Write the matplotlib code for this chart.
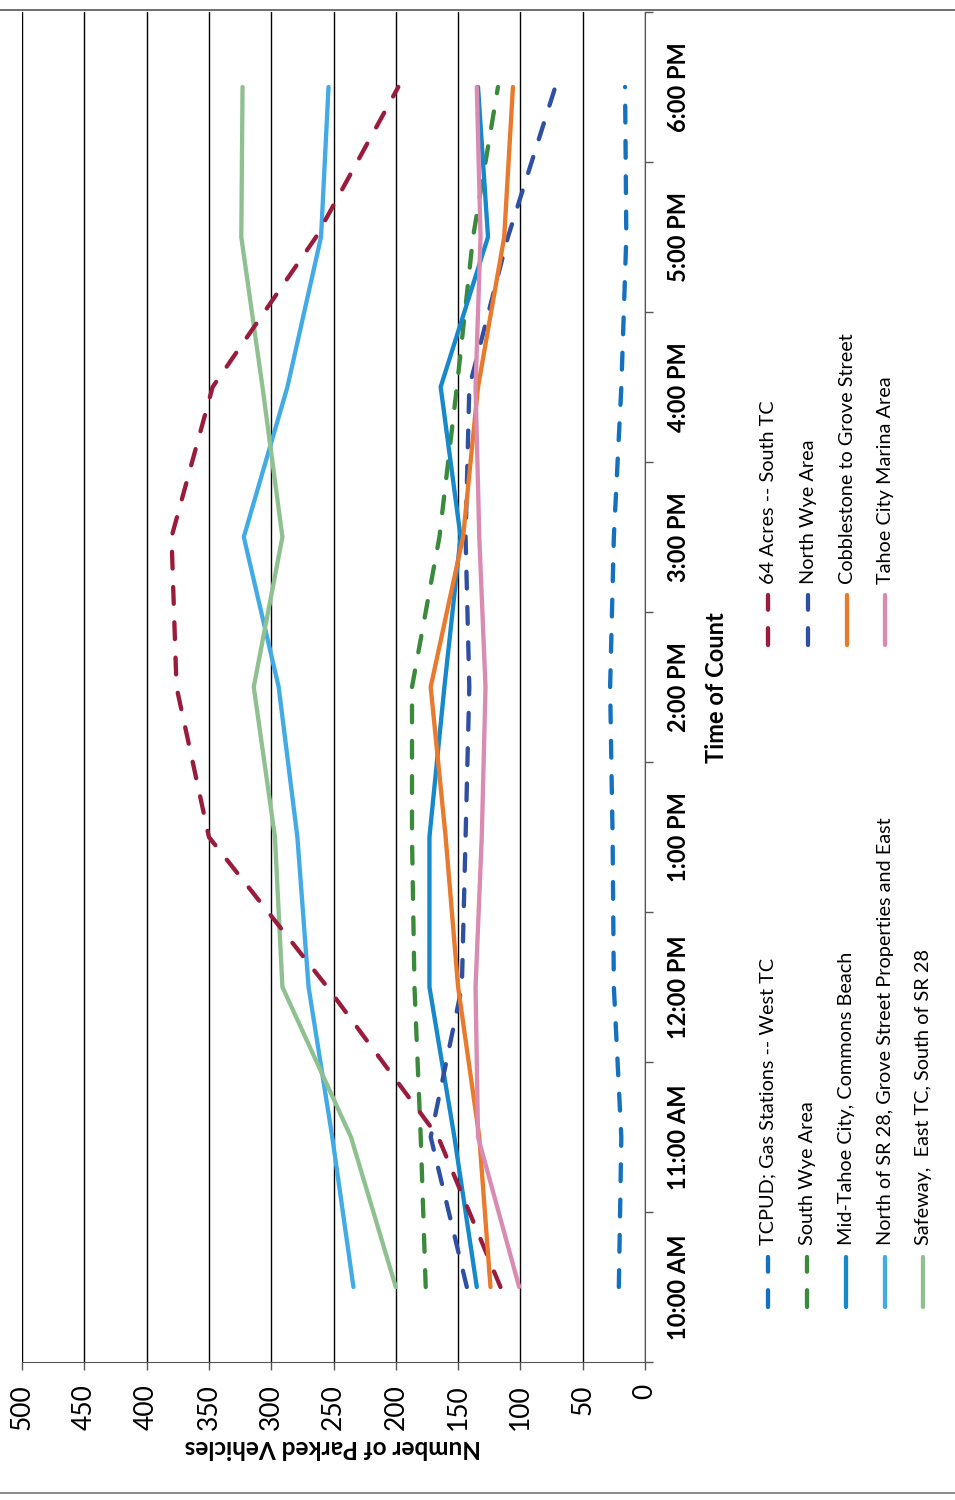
from matplotlib import pyplot as plt
from matplotlib.lines import Line2D
import numpy as np

plt.rcParams['font.family'] = ['Lato', 'DejaVu Sans']

# parked vehicle counts per hour, one list per area
times = ['10:00 AM', '11:00 AM', '12:00 PM', '1:00 PM', '2:00 PM',
         '3:00 PM', '4:00 PM', '5:00 PM', '6:00 PM']
tcpud = [21, 19, 25, 26, 28, 25, 19, 15, 16]
south_wye = [176, 180, 185, 187, 187, 165, 151, 138, 118]
mid_tahoe = [135, 153, 173, 173, 161, 148, 164, 126, 134]
north_sr28 = [234, 251, 270, 279, 294, 322, 287, 260, 254]
safeway = [200, 236, 291, 297, 314, 291, 307, 324, 323]
acres64 = [116, 166, 255, 350, 376, 380, 347, 264, 198]
north_wye = [143, 172, 147, 144, 141, 144, 141, 110, 72]
cobblestone = [124, 133, 150, 160, 172, 146, 134, 113, 106]
marina = [101, 134, 136, 131, 128, 133, 136, 132, 135]

series = [
    ('TCPUD; Gas Stations -- West TC', tcpud, '#1470c0', True),
    ('South Wye Area', south_wye, '#3a8a3c', True),
    ('Mid-Tahoe City, Commons Beach', mid_tahoe, '#1688cc', False),
    ('North of SR 28, Grove Street Properties and East', north_sr28, '#42abe6', False),
    ('Safeway,  East TC, South of SR 28', safeway, '#8fc190', False),
    ('64 Acres -- South TC', acres64, '#9a1c3c', True),
    ('North Wye Area', north_wye, '#2f4fa2', True),
    ('Cobblestone to Grove Street', cobblestone, '#e9792c', False),
    ('Tahoe City Marina Area', marina, '#d98bb1', False),
]

W, H = 955, 1500
DASH = (0, (3.9, 4.3))


def fx(x):
    return x / W


def fy(y):
    return 1 - y / H


fig = plt.figure(figsize=(W / 100, H / 100), dpi=100)
ax = fig.add_axes([fx(22), fy(1362), (645 - 22) / W, (1362 - 12) / H])

# chart is turned on its side: time runs upward, counts run leftward
pos = np.arange(len(times))
for label, vals, color, dashed in series:
    ax.plot(vals, pos, color=color, lw=3.1,
            ls=DASH if dashed else '-',
            dash_capstyle='round', solid_capstyle='round',
            solid_joinstyle='round')

ax.set_xlim(500, 0)
ax.set_ylim(-0.5, 8.5)
ax.set_xticks(np.arange(0, 501, 50))
ax.grid(axis='x', color='black', lw=1.0)
ax.set_axisbelow(True)
ax.spines[['top', 'left']].set_visible(False)
ax.spines['bottom'].set_color('#555555')
ax.spines['right'].set_color('#555555')
ax.tick_params(axis='x', direction='out', length=6, width=1, color='#555555',
               labelrotation=90, labelsize=19, pad=10)

ax.yaxis.tick_right()
ax.set_yticks(pos, times, fontweight='bold')
ax.set_yticks(np.arange(-0.5, 9), minor=True)
ax.tick_params(axis='y', which='major', length=0, labelrotation=90,
               labelsize=17, pad=16)
ax.tick_params(axis='y', which='minor', direction='out', length=6, width=1,
               color='#555555')
for lbl in ax.get_yticklabels():
    lbl.set_va('center')

fig.text(fx(333), fy(1447), 'Number of Parked Vehicles', rotation=180,
         ha='center', va='center', fontsize=17.5, fontweight='bold')
fig.text(fx(716), fy(688), 'Time of Count', rotation=90,
         ha='center', va='center', fontsize=17, fontweight='bold')

# legend in two columns, handles drawn as short vertical lines
col1_x = [768, 807, 846, 885, 923]
col2_x = [768, 808, 847, 885]
slots = [(x, 1307, 1257, 1245) for x in col1_x] + \
        [(x, 645, 595, 584) for x in col2_x]
for (label, vals, color, dashed), (x, y0, y1, ty) in zip(series, slots):
    fig.add_artist(Line2D([fx(x), fx(x)], [fy(y0), fy(y1)], color=color, lw=3.1,
                          ls=DASH if dashed else '-',
                          dash_capstyle='round', solid_capstyle='round'))
    fig.text(fx(x), fy(ty), label, rotation=90, ha='center', va='bottom',
             fontsize=14.3)

# page edges
fig.add_artist(Line2D([0, 1], [fy(10), fy(10)], color='#555555', lw=1.2))
fig.add_artist(Line2D([0, 1], [fy(1493), fy(1493)], color='#777777', lw=1.2))

fig.savefig('out.png', dpi=100)
